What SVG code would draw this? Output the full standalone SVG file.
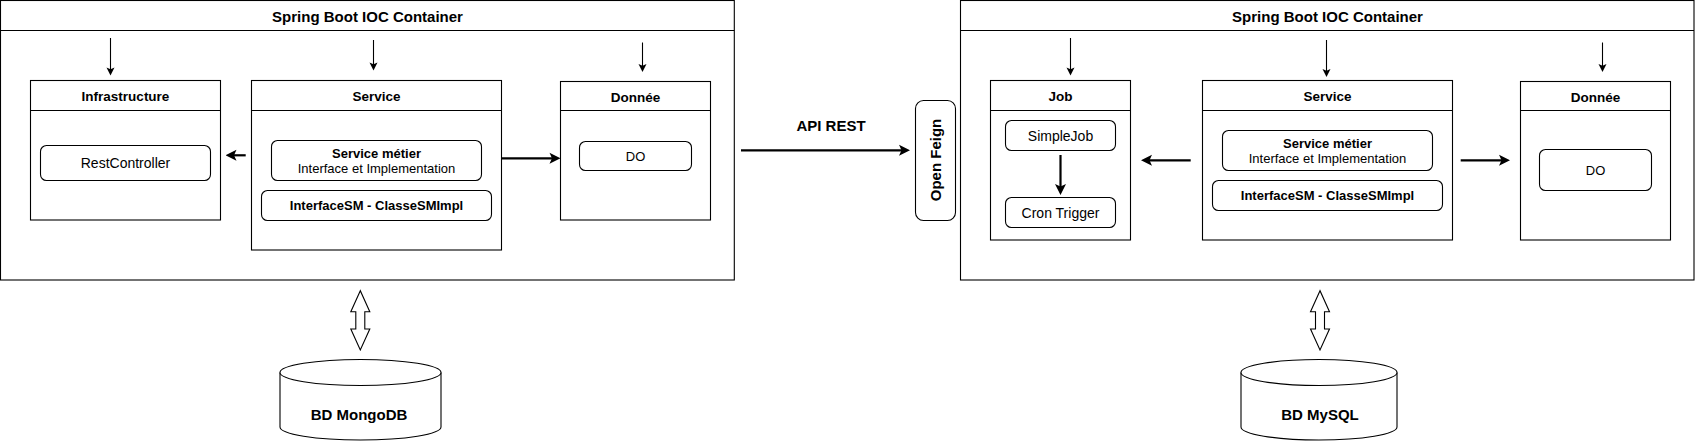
<svg xmlns="http://www.w3.org/2000/svg" width="1695" height="441" viewBox="0 0 1695 441">
<style>
text{font-family:"Liberation Sans",Arial,Helvetica,sans-serif;fill:#000;text-anchor:middle}
.box{fill:#fff;stroke:#000;stroke-width:1.1}
.rbox{fill:#fff;stroke:#000;stroke-width:1.1}
.sep{stroke:#000;stroke-width:1.1;fill:none}
.ct{font-size:15px;font-weight:bold}
.t{font-size:13.5px;font-weight:bold}
.b13{font-size:13px;font-weight:bold}
.r13{font-size:13px}
.r14{font-size:14px}
.b15{font-size:15px;font-weight:bold}
.thin{stroke:#000;stroke-width:1.1;fill:none;marker-end:url(#mThin)}
.thick{stroke:#000;stroke-width:2.2;fill:none;marker-end:url(#mThick)}
</style>
<defs>
<marker id="mThin" markerUnits="userSpaceOnUse" viewBox="-12 -6 12 12" markerWidth="12" markerHeight="12" refX="-4" refY="0" orient="auto">
<path d="M0,0 L-8,-4 L-6.2,0 L-8,4 Z" fill="#000"/>
</marker>
<marker id="mThick" markerUnits="userSpaceOnUse" viewBox="-14 -7 14 14" markerWidth="14" markerHeight="14" refX="-6" refY="0" orient="auto">
<path d="M0,0 L-11,-5.5 L-8.5,0 L-11,5.5 Z" fill="#000"/>
</marker>
</defs>
<rect width="1695" height="441" fill="#fff"/>

<g id="container-left">
<rect class="box" x="0.5" y="0.5" width="733.8" height="279.5"/>
<line class="sep" x1="0.5" y1="30.5" x2="734.3" y2="30.5"/>
<text class="ct" x="367.5" y="22">Spring Boot IOC Container</text>
</g>
<g id="container-right">
<rect class="box" x="960.5" y="0.5" width="733.5" height="279.5"/>
<line class="sep" x1="960.5" y1="30.5" x2="1694" y2="30.5"/>
<text class="ct" x="1327.5" y="22">Spring Boot IOC Container</text>
</g>

<g id="infrastructure">
<rect class="box" x="30.5" y="80.5" width="190" height="139.5"/>
<line class="sep" x1="30.5" y1="110.5" x2="220.5" y2="110.5"/>
<text class="t" x="125.5" y="101">Infrastructure</text>
</g>
<g id="restcontroller">
<rect class="rbox" x="40.5" y="145.5" width="170" height="35" rx="6"/>
<text class="r14" x="125.5" y="168">RestController</text>
</g>
<g id="service-left">
<rect class="box" x="251.5" y="80.5" width="250" height="169.5"/>
<line class="sep" x1="251.5" y1="110.5" x2="501.5" y2="110.5"/>
<text class="t" x="376.5" y="101">Service</text>
</g>
<g id="service-metier-left">
<rect class="rbox" x="271.5" y="140.5" width="210" height="40" rx="6"/>
<text class="b13" x="376.5" y="158">Service métier</text>
<text class="r13" x="376.5" y="172.5">Interface et Implementation</text>
</g>
<g id="interfacesm-left">
<rect class="rbox" x="261.5" y="190.5" width="230" height="30" rx="6"/>
<text class="b13" x="376.5" y="210">InterfaceSM - ClasseSMImpl</text>
</g>
<g id="donnee-left">
<rect class="box" x="560.5" y="81.5" width="150" height="138.5"/>
<line class="sep" x1="560.5" y1="110.5" x2="710.5" y2="110.5"/>
<text class="t" x="635.5" y="102">Donnée</text>
</g>
<g id="do-left">
<rect class="rbox" x="579.5" y="141.5" width="112" height="29" rx="6"/>
<text class="r13" x="635.5" y="161">DO</text>
</g>

<g id="open-feign">
<rect class="rbox" x="915.5" y="100.5" width="40" height="120" rx="8"/>
<text class="b15" transform="translate(940.5,160) rotate(-90)" x="0" y="0">Open Feign</text>
</g>
<g id="api-rest-label">
<text class="b15" x="831" y="131">API REST</text>
</g>

<g id="job">
<rect class="box" x="990.5" y="80.5" width="140" height="159.5"/>
<line class="sep" x1="990.5" y1="110.5" x2="1130.5" y2="110.5"/>
<text class="t" x="1060.5" y="101">Job</text>
</g>
<g id="simplejob">
<rect class="rbox" x="1005.5" y="120.5" width="110" height="30" rx="6"/>
<text class="r14" x="1060.5" y="140.5">SimpleJob</text>
</g>
<g id="cron-trigger">
<rect class="rbox" x="1005.5" y="197.5" width="110" height="30" rx="6"/>
<text class="r14" x="1060.5" y="217.5">Cron Trigger</text>
</g>
<g id="service-right">
<rect class="box" x="1202.5" y="80.5" width="250" height="159.5"/>
<line class="sep" x1="1202.5" y1="110.5" x2="1452.5" y2="110.5"/>
<text class="t" x="1327.5" y="101">Service</text>
</g>
<g id="service-metier-right">
<rect class="rbox" x="1222.5" y="130.5" width="210" height="40" rx="6"/>
<text class="b13" x="1327.5" y="148.3">Service métier</text>
<text class="r13" x="1327.5" y="162.7">Interface et Implementation</text>
</g>
<g id="interfacesm-right">
<rect class="rbox" x="1212.5" y="180.5" width="230" height="30" rx="6"/>
<text class="b13" x="1327.5" y="200">InterfaceSM - ClasseSMImpl</text>
</g>
<g id="donnee-right">
<rect class="box" x="1520.5" y="81.5" width="150" height="158.5"/>
<line class="sep" x1="1520.5" y1="110.5" x2="1670.5" y2="110.5"/>
<text class="t" x="1595.5" y="102">Donnée</text>
</g>
<g id="do-right">
<rect class="rbox" x="1539.5" y="149.5" width="112" height="41" rx="6"/>
<text class="r13" x="1595.5" y="175">DO</text>
</g>

<g id="bd-mongodb">
<path d="M280,372.5 L280,427 A80.5,13 0 0,0 441,427 L441,372.5" fill="#fff" stroke="#000" stroke-width="1.1"/>
<ellipse cx="360.5" cy="372.5" rx="80.5" ry="13" fill="#fff" stroke="#000" stroke-width="1.1"/>
<text class="b15" x="359" y="419.5">BD MongoDB</text>
</g>
<g id="bd-mysql">
<path d="M1241,372.5 L1241,427 A78,13 0 0,0 1397,427 L1397,372.5" fill="#fff" stroke="#000" stroke-width="1.1"/>
<ellipse cx="1319" cy="372.5" rx="78" ry="13" fill="#fff" stroke="#000" stroke-width="1.1"/>
<text class="b15" x="1320" y="419.5">BD MySQL</text>
</g>

<g id="connectors">
<path class="thin" d="M110.5,38 L110.5,71.5"/>
<path class="thin" d="M373.5,40 L373.5,66.5"/>
<path class="thin" d="M642.5,42.5 L642.5,68"/>
<path class="thin" d="M1070.5,38 L1070.5,71.5"/>
<path class="thin" d="M1326.5,40 L1326.5,73"/>
<path class="thin" d="M1602.5,42.5 L1602.5,68"/>
<path class="thick" d="M245.7,155.3 L231.5,155.3"/>
<path class="thick" d="M501.5,158.3 L554.5,158.3"/>
<path class="thick" d="M741,150.3 L904,150.3"/>
<path class="thick" d="M1190.7,160.3 L1147,160.3"/>
<path class="thick" d="M1460.7,160.3 L1504,160.3"/>
<path class="thick" d="M1060.5,155 L1060.5,189"/>
<polygon points="360.3,290.7 350.8,311.7 355.8,311.7 355.8,329 350.8,329 360.3,350 369.8,329 364.8,329 364.8,311.7 369.8,311.7" fill="#fff" stroke="#000" stroke-width="1.1" stroke-linejoin="miter"/>
<polygon points="1320,290.7 1310.5,311.7 1315.5,311.7 1315.5,329 1310.5,329 1320,350 1329.5,329 1324.5,329 1324.5,311.7 1329.5,311.7" fill="#fff" stroke="#000" stroke-width="1.1" stroke-linejoin="miter"/>
</g>
</svg>
